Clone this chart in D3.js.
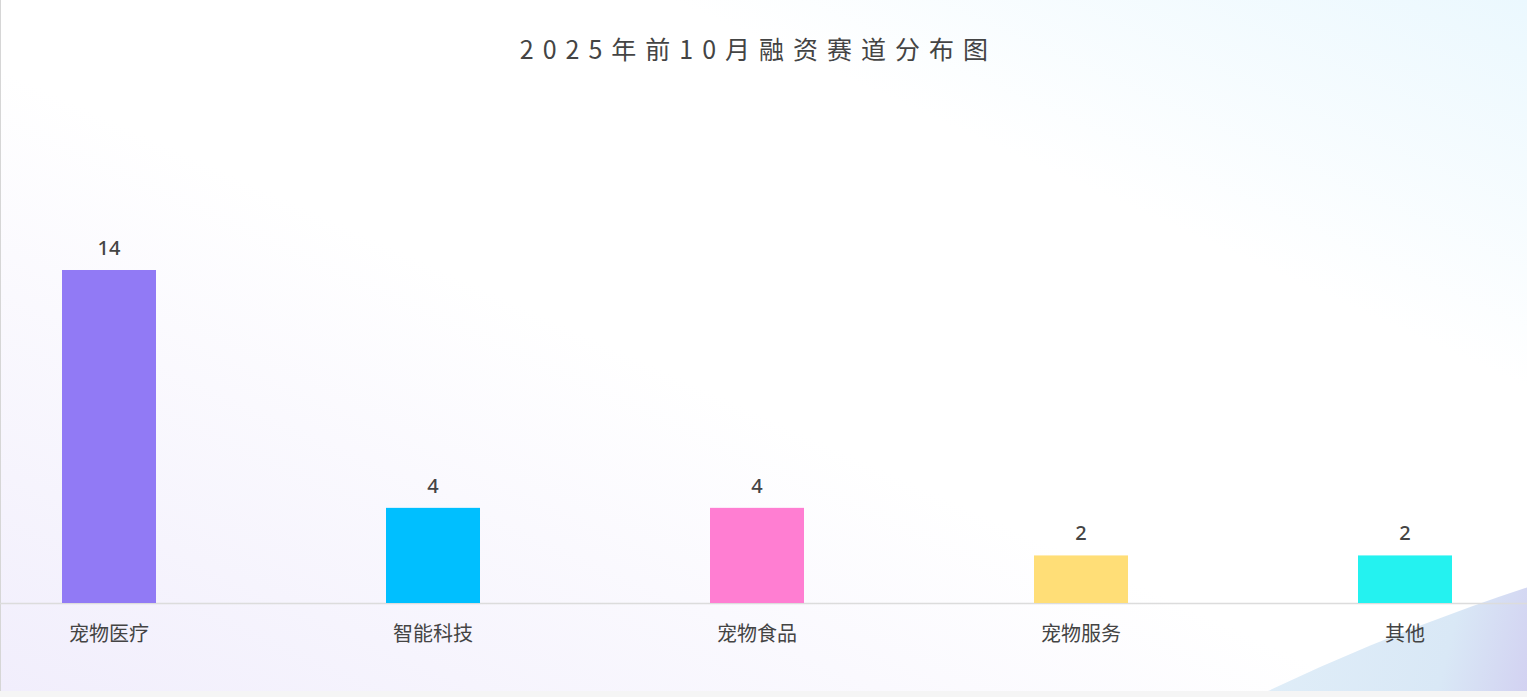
<!DOCTYPE html>
<html>
<head>
<meta charset="utf-8">
<script src="https://cdn.jsdelivr.net/npm/d3@7/dist/d3.min.js"></script>
<style>
html,body{margin:0;padding:0;background:#f5f5f5;overflow:hidden;}
svg{display:block;}
</style>
</head>
<body>
<svg id="chart" width="1527" height="697"></svg>
<script>
const title = "2025年前10月融资赛道分布图";
const categories = ["宠物医疗","智能科技","宠物食品","宠物服务","其他"];
const values = [14, 4, 4, 2, 2];
const colors = ["#917AF5","#00BFFF","#FF7ED2","#FFDE77","#24F2F0"];

const W = 1527, H = 697, cardH = 691;
const svg = d3.select("#chart");
const defs = svg.append("defs");

// background gradients
const g1 = defs.append("linearGradient").attr("id","bgGrad")
  .attr("x1","0").attr("y1","1").attr("x2","1").attr("y2","0");
g1.append("stop").attr("offset","0%").attr("stop-color","#f1eefc");
g1.append("stop").attr("offset","45%").attr("stop-color","#ffffff");
g1.append("stop").attr("offset","72%").attr("stop-color","#ffffff");
g1.append("stop").attr("offset","100%").attr("stop-color","#ebf8fe");

const g2 = defs.append("linearGradient").attr("id","blobGrad")
  .attr("gradientUnits","userSpaceOnUse")
  .attr("x1",1280).attr("y1",640).attr("x2",1527).attr("y2",700);
g2.append("stop").attr("offset","0%").attr("stop-color","#dfedf8");
g2.append("stop").attr("offset","65%").attr("stop-color","#d9e8f6");
g2.append("stop").attr("offset","100%").attr("stop-color","#d2d1f1");

defs.append("clipPath").attr("id","cardClip")
  .append("rect").attr("x",0).attr("y",0).attr("width",W).attr("height",cardH);

svg.append("rect").attr("x",0).attr("y",cardH).attr("width",W).attr("height",H-cardH).attr("fill","#f5f5f5");
const card = svg.append("g").attr("clip-path","url(#cardClip)");
card.append("rect").attr("x",0).attr("y",0).attr("width",W).attr("height",cardH).attr("fill","url(#bgGrad)");
card.append("circle").attr("cx",2212).attr("cy",2676).attr("r",2198)
  .attr("fill","url(#blobGrad)");
svg.append("line").attr("x1",0.5).attr("x2",0.5).attr("y1",0).attr("y2",cardH)
  .attr("stroke","#d6d6d6").attr("stroke-width",1);

const font = "'Noto Sans CJK SC', 'Noto Sans', sans-serif";

// title
svg.append("text").attr("x", 758.5).attr("y", 59)
  .attr("text-anchor","middle")
  .attr("font-family",font)
  .attr("font-size",25).attr("letter-spacing","9px")
  .attr("fill","#444").text(title);

// scales
const x = d3.scaleBand().domain(categories).range([-53, 1567]).paddingInner(0).paddingOuter(0);
const y = d3.scaleLinear().domain([0, 14]).range([603, 270]);
const barW = 94;

const axis = d3.axisBottom(x).tickSize(0).tickPadding(24);
const ax = svg.append("g").attr("transform","translate(0,603)").call(axis);
ax.select(".domain").remove();
svg.append("line").attr("x1",0).attr("x2",W).attr("y1",603.5).attr("y2",603.5)
  .attr("stroke","#dcdcdc").attr("stroke-width",1.5);
ax.selectAll("text").attr("font-family",font).attr("font-size",20).attr("fill","#444")
  .attr("dy","0.71em");

const data = categories.map((c,i)=>({c, v: values[i], col: colors[i]}));
svg.append("g").selectAll("rect").data(data).join("rect")
  .attr("x", d => x(d.c) + x.bandwidth()/2 - barW/2)
  .attr("width", barW)
  .attr("y", d => y(d.v))
  .attr("height", d => y(0) - y(d.v))
  .attr("fill", d => d.col);

svg.append("g").selectAll("text").data(data).join("text")
  .attr("x", d => x(d.c) + x.bandwidth()/2)
  .attr("y", d => y(d.v) - 15)
  .attr("text-anchor","middle")
  .attr("font-family","'Noto Sans', sans-serif")
  .attr("font-size",20).attr("font-weight",500)
  .attr("fill","#444")
  .text(d => d.v);
</script>
</body>
</html>
